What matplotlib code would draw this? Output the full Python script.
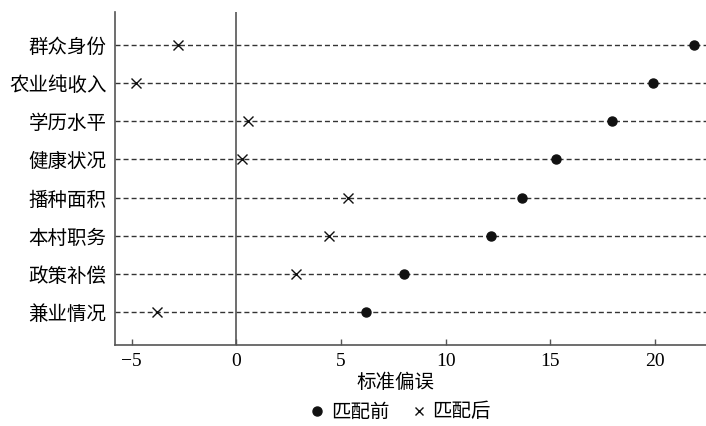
import numpy as np
import matplotlib.pyplot as plt
from matplotlib.lines import Line2D

plt.rcParams['font.family'] = ['Liberation Serif', 'Noto Sans CJK SC']
plt.rcParams['axes.unicode_minus'] = True

# 变量（自上而下）
labels = ['群众身份', '农业纯收入', '学历水平', '健康状况',
          '播种面积', '本村职务', '政策补偿', '兼业情况']
# 匹配前 / 匹配后 标准偏误
before = [21.9, 19.9, 17.95, 15.3, 13.65, 12.15, 8.0, 6.2]
after = [-2.8, -4.8, 0.55, 0.25, 5.35, 4.45, 2.85, -3.8]
xticks = [-5, 0, 5, 10, 15, 20]

cjk = ['Noto Sans CJK SC', 'DejaVu Sans']
num = ['Liberation Serif', 'DejaVu Sans']

fig = plt.figure(figsize=(7.06, 4.26), dpi=100)
ax = fig.add_axes([115/706, 1 - 345/426, 1 - 115/706, 333/426])

n = len(labels)
ypos = np.arange(n, 0, -1)

ax.set_xlim(-5.8, 22.45)
ax.set_ylim(0.135, n + 0.865)

for y in ypos:
    ax.axhline(y, color='#333333', lw=1.0, dashes=(3.6, 2.2), zorder=1)
ax.axvline(0, color='#555555', lw=1.2, zorder=1)

ax.plot(before, ypos, 'o', color='#111111', ms=6.5, zorder=3)
ax.plot(after, ypos, 'x', color='#111111', ms=7, mew=1.0, zorder=3)

ax.set_yticks(ypos)
ax.set_yticklabels(labels, family=cjk, fontsize=14)
ax.tick_params(axis='y', length=0, pad=6)
ax.set_xticks(xticks)
ax.set_xticklabels([str(v).replace('-', '\u2212') for v in xticks], family=num, fontsize=14)
ax.tick_params(axis='x', direction='in', length=4, width=1, color='#555555', pad=6)

for s in ['top', 'right']:
    ax.spines[s].set_visible(False)
for s in ['left', 'bottom']:
    ax.spines[s].set_color('#555555')
    ax.spines[s].set_linewidth(1.2)

ax.set_xlabel('标准偏误', family=cjk, fontsize=14)
ax.xaxis.set_label_coords(0.475, -0.08)

handles = [Line2D([], [], ls='none', marker='o', color='#111111', ms=6.5),
           Line2D([], [], ls='none', marker='x', color='#111111', ms=6, mew=1.0)]
fig.legend(handles, ['匹配前', '匹配后'], loc='center', bbox_to_anchor=(0.567, 0.033),
           ncol=2, frameon=False, handlelength=0.8, handletextpad=0.3,
           columnspacing=1.1, prop={'family': cjk, 'size': 14})

fig.savefig('out.png', dpi=100)
